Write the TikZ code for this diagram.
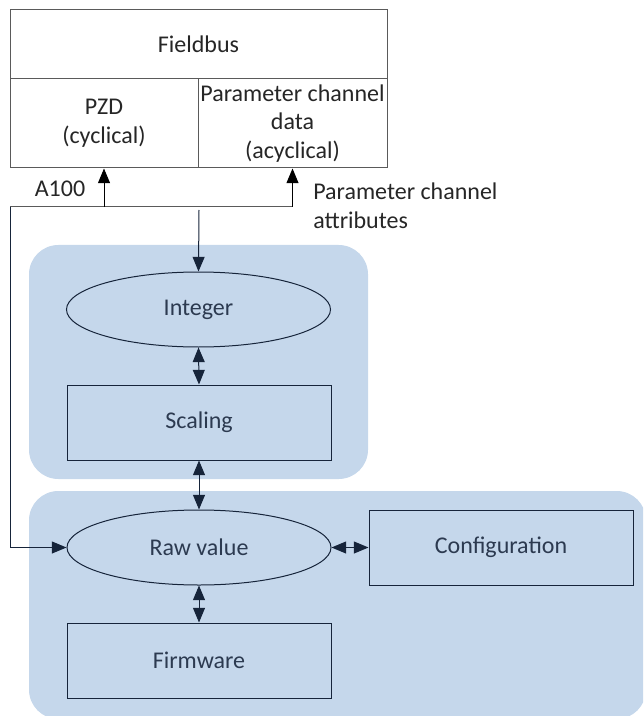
\documentclass[tikz,border=0pt]{standalone}
\usepackage{fontspec}
\setmainfont{Carlito}
\usetikzlibrary{arrows.meta,shapes.geometric}
\definecolor{regionblue}{RGB}{197,215,235}
\definecolor{navy}{RGB}{22,36,58}
\definecolor{slate}{RGB}{44,58,80}
\definecolor{busgray}{RGB}{90,90,90}
\tikzset{
  tip/.style={-{Triangle[length=11pt,width=9pt]}},
  twotip/.style={{Triangle[length=11pt,width=9pt]}-{Triangle[length=11pt,width=9pt]}},
  buscell/.style={draw=busgray,line width=0.75pt,inner sep=0pt,align=center,text=black!85},
  unit/.style={draw=navy,line width=0.75pt,fill=regionblue,inner sep=0pt,
    minimum width=198pt,minimum height=56.25pt,text=slate},
  oval/.style={unit,ellipse},
  region/.style={fill=regionblue,rounded corners=22pt}
}
\begin{document}
\begin{tikzpicture}[x=0.75pt,y=-0.75pt,font=\fontsize{18}{22}\selectfont]
  \useasboundingbox (0,0) rectangle (643,716);
  \clip (0,0) rectangle (643,716);
  % Hintergrund
  \fill[region] (29,245) rectangle (368,479);
  \fill[region] (29,491) rectangle (646,719);
  % Feldbus
  \node[buscell,minimum width=282.75pt,minimum height=51.75pt] (fieldbus) at (198.5,44.5) {Fieldbus};
  \node[buscell,minimum width=141pt,minimum height=66.75pt] (pzd) at (104,123.5) {PZD\\(cyclical)};
  \node[buscell,minimum width=141.75pt,minimum height=66.75pt,font=\fontsize{18}{21.5}\selectfont] (pcd) at (292.5,123.5) {Parameter channel\\data\\(acyclical)};
  % Bloecke
  \node[oval] (integer) at (198.5,309.5) {Integer};
  \node[unit] (scaling) at (199,422.5) {Scaling};
  \node[oval] (raw) at (199,547.5) {Raw value};
  \node[unit] (config) at (501,547.5) {Configuration};
  \node[unit] (firmware) at (199,660.5) {Firmware};
  % Leitungen
  \coordinate (bus) at (10,207);
  \coordinate (feed) at (199,210);
  \draw[busgray,line width=0.75pt] (bus) -- (pcd.south |- bus);
  \draw[black,line width=0.75pt,tip] (pzd.south |- bus) -- (pzd.south);
  \draw[black,line width=0.75pt,tip] (pcd.south |- bus) -- (pcd.south);
  \draw[navy,line width=0.75pt,tip] (bus) |- (raw.west);
  \draw[navy,line width=0.75pt,tip] (feed) -- (integer.north);
  \draw[navy,line width=0.75pt,twotip] (integer.south) -- (scaling.north);
  \draw[navy,line width=0.75pt,twotip] (scaling.south) -- (raw.north);
  \draw[navy,line width=0.75pt,twotip] (raw.east) -- (config.west);
  \draw[navy,line width=0.75pt,twotip] (raw.south) -- (firmware.north);
  % Beschriftung
  \node[text=black!85] (a100) at (60,189) {A100};
  \node[anchor=west,align=left,inner sep=0pt,text=black!85] (attr) at (313,206) {Parameter channel\\attributes};
\end{tikzpicture}
\end{document}
